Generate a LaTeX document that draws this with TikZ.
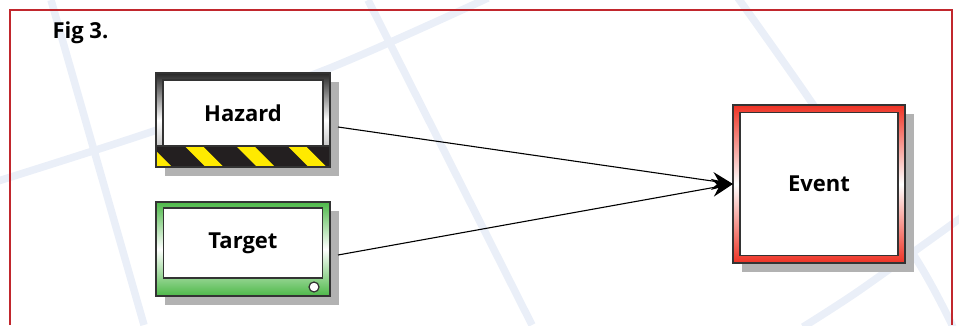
\documentclass[tikz,border=0pt]{standalone}
\usepackage{fontspec}
\setmainfont{Open Sans}
\usetikzlibrary{positioning,shadows,arrows.meta}

\definecolor{framered}{HTML}{C1272D}
\definecolor{gridblue}{HTML}{EAEFF8}
\definecolor{boxline}{HTML}{333333}
\definecolor{targetgreen}{HTML}{4DB848}
\definecolor{eventred}{HTML}{EE3224}
\definecolor{hazardyellow}{HTML}{FFEA00}
\definecolor{hazardblack}{HTML}{231F20}

\tikzset{
	outerbox/.style={draw=boxline, line width=1.2pt, outer sep=0pt, inner sep=0pt,
		drop shadow={shadow xshift=9pt, shadow yshift=-9pt, fill=black!30, opacity=1}},
	innerbox/.style={draw=boxline, line width=1.2pt, fill=white, outer sep=0pt, inner sep=0pt,
		font=\fontsize{22}{26}\selectfont\bfseries},
	gridline/.style={gridblue, line width=7.5pt},
	link/.style={line width=1.1pt, -{Stealth[length=21pt, width=18pt, inset=7pt]}}
}

\begin{document}
\begin{tikzpicture}[x=1pt, y=1pt]
			\useasboundingbox (0,0) rectangle (959,325);
			
			% background grid
			\draw[gridline] (51,325) -- (144,0);
			\draw[gridline] plot[smooth] coordinates {(-5,143) (157,195) (330,257) (488,327)};
			\draw[gridline] (368,325) -- (532,0);
			\draw[gridline] plot[smooth] coordinates {(738,327) (810,225) (915,68) (953,-2)};
			\draw[gridline] plot[smooth] coordinates {(803,-2) (860,35) (962,108)};
			
			% frame
			\draw[framered, line width=2pt] (10,0) -- (10,315) -- (952,315) -- (952,0);
			\node[anchor=base west, font=\fontsize{22}{26}\selectfont\bfseries] (figlabel) at (49,287) {Fig 3.};
			
			\node[outerbox, minimum width=174pt, minimum height=94pt,
				top color=black!85, bottom color=black!40, middle color=white] (hazard) at (243,205) {};
			\node[outerbox, minimum width=174pt, minimum height=94pt, below=35pt of hazard,
				top color=targetgreen, bottom color=targetgreen, middle color=white] (target) {};
			\node[outerbox, minimum width=172pt, minimum height=158pt,
				top color=eventred, bottom color=eventred, middle color=white] (event) at (819,141) {};
			
			% hazard stripes
			\begin{scope}[shift={(hazard.south west)}]
				\clip (0,0) rectangle (174,21);
				\fill[hazardblack] (0,0) rectangle (174,21);
				\foreach \i in {0,...,4}
					\fill[hazardyellow] (-23+51.5*\i,21) -- ++(18,0) -- ++(21,-21) -- ++(-18,0) -- cycle;
			\end{scope}
			\draw[boxline, line width=1.2pt] (hazard.south west) rectangle ([yshift=21pt]hazard.south east);
			
			\node[innerbox, minimum width=160pt, minimum height=66pt, below=7pt of hazard.north] (hazardlbl) {Hazard};
			\node[innerbox, minimum width=159pt, minimum height=70pt, below=6pt of target.north] (targetlbl) {Target};
			\node[innerbox, minimum width=158pt, minimum height=143pt] (eventlbl) at (event) {Event};
			\node[circle, draw=boxline, line width=1.2pt, fill=white, minimum size=10pt, inner sep=0pt]
				(targetknob) at ([shift={(-16,9)}]target.south east) {};
			
			\draw[link] ([shift={(8,-7)}]hazard.east) -- (event.west);
			\draw[link] ([shift={(8,-6)}]target.east) -- (event.west);
			
\end{tikzpicture}
\end{document}
